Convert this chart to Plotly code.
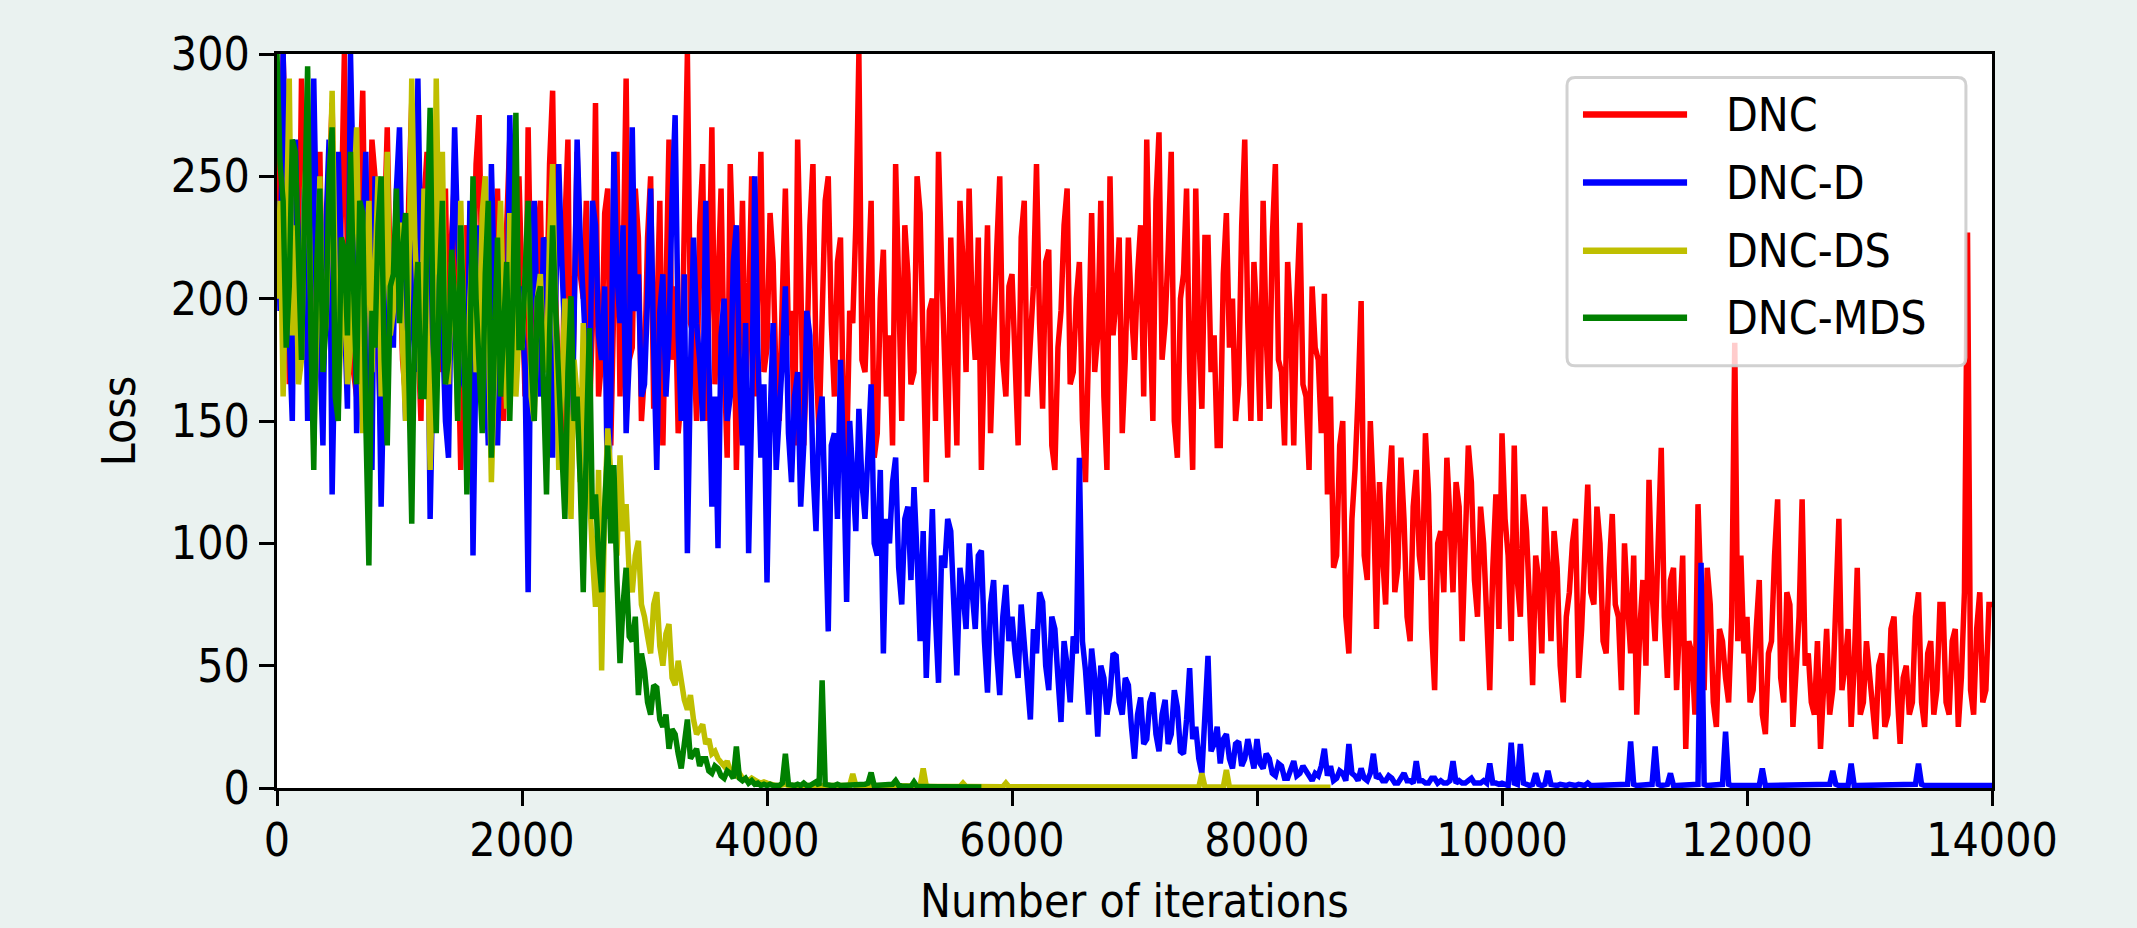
import plotly.graph_objects as go

# ---------------- data (loss sampled every 25 iterations) ----------------
ITER_STEP = 25

series_names = ["DNC", "DNC-D", "DNC-DS", "DNC-MDS"]
series_colors = ["#ff0000", "#0000ff", "#bfbf00", "#008000"]

dnc_loss = [
    270, 210, 300, 245, 165, 225, 240, 185, 290, 235, 180, 270, 150, 200, 260, 175, 210, 255, 280, 190, 175, 235, 300, 215, 230, 170, 160, 245, 285, 195, 200, 265, 250, 185, 140, 225, 270, 205, 190, 240,
    220, 175, 160, 240, 280, 205, 185, 150, 240, 260, 140, 195, 265, 170, 205, 245, 170, 225, 250, 180, 130, 210, 230, 165, 195, 255, 275, 200, 160, 235, 215, 145, 245, 190, 150, 230, 265, 210, 185, 250,
    210, 160, 270, 195, 155, 225, 240, 175, 190, 255, 285, 200, 165, 140, 230, 265, 130, 185, 260, 210, 200, 240, 150, 190, 280, 160, 175, 235, 245, 140, 195, 260, 160, 210, 290, 175, 180, 245, 225, 150,
    170, 225, 250, 155, 190, 240, 140, 200, 265, 175, 205, 145, 160, 230, 300, 190, 185, 150, 230, 255, 150, 200, 270, 165, 210, 245, 175, 135, 255, 215, 130, 180, 240, 160, 195, 250, 160, 205, 260, 170,
    180, 235, 215, 165, 150, 200, 245, 185, 195, 140, 265, 210, 140, 175, 230, 255, 175, 145, 205, 240, 250, 190, 160, 215, 225, 150, 135, 195, 190, 230, 300, 175, 170, 210, 240, 135, 145, 200, 220, 160,
    185, 140, 255, 205, 150, 230, 210, 165, 170, 250, 235, 180, 125, 195, 200, 150, 260, 215, 165, 135, 225, 190, 140, 240, 215, 170, 245, 195, 175, 225, 130, 180, 230, 145, 190, 220, 250, 175, 160, 205,
    210, 175, 140, 225, 240, 160, 180, 205, 255, 190, 155, 215, 220, 140, 130, 180, 195, 230, 245, 165, 170, 200, 215, 150, 125, 195, 235, 170, 185, 240, 160, 130, 250, 185, 200, 225, 145, 175, 225, 195,
    175, 210, 230, 160, 265, 195, 150, 240, 268, 175, 190, 220, 260, 150, 135, 200, 210, 245, 170, 130, 245, 185, 155, 225, 225, 170, 185, 140, 140, 210, 235, 180, 200, 150, 165, 230, 265, 190, 150, 215,
    190, 150, 240, 185, 155, 225, 255, 175, 170, 140, 215, 190, 140, 200, 231, 165, 160, 130, 205, 180, 175, 145, 202, 120, 160, 90, 95, 140, 150, 70, 55, 110, 130, 160, 199, 95, 85, 150, 120, 65,
    125, 95, 75, 120, 140, 80, 90, 135, 110, 70, 60, 115, 130, 95, 85, 145, 120, 65, 40, 100, 105, 80, 135, 110, 80, 125, 115, 60, 95, 140, 125, 85, 70, 115, 100, 75, 40, 90, 120, 65,
    145, 110, 95, 60, 140, 85, 70, 120, 105, 75, 42, 95, 85, 55, 115, 90, 60, 105, 90, 50, 35, 70, 80, 100, 110, 45, 65, 95, 124, 80, 75, 115, 100, 60, 55, 90, 112, 75, 70, 40,
    100, 75, 55, 95, 30, 65, 85, 50, 126, 80, 60, 100, 139, 70, 45, 85, 90, 40, 70, 95, 16, 60, 55, 30, 116, 75, 40, 90, 75, 35, 25, 65, 60, 45, 35, 70, 182, 60, 95, 55,
    70, 35, 40, 65, 85, 30, 22, 55, 60, 95, 118, 45, 35, 80, 75, 25, 45, 70, 118, 50, 55, 35, 30, 60, 16, 45, 65, 30, 40, 75, 110, 40, 50, 65, 25, 50, 90, 30, 35, 60,
    45, 30, 20, 50, 55, 25, 30, 65, 70, 40, 18, 45, 50, 30, 35, 70, 80, 35, 25, 55, 60, 30, 40, 75, 75, 35, 30, 60, 65, 25, 45, 80, 227, 40, 30, 65, 80, 35, 40, 75,
    75,
]

dnc_d_loss = [
    240, 195, 300, 230, 185, 150, 265, 210, 210, 245, 150, 190, 290, 220, 175, 140, 230, 265, 120, 180, 260, 215, 195, 155, 300, 240, 145, 185, 220, 260, 170, 130, 250, 200, 115, 170, 235, 205, 180, 245,
    270, 200, 150, 185, 225, 170, 290, 215, 165, 235, 110, 175, 245, 205, 190, 150, 135, 210, 270, 225, 205, 165, 160, 240, 95, 180, 230, 200, 180, 140, 255, 205, 140, 190, 210, 165, 275, 225, 170, 205,
    195, 170, 80, 210, 240, 185, 160, 225, 220, 165, 135, 200, 255, 215, 180, 150, 120, 190, 265, 225, 200, 170, 150, 240, 230, 185, 175, 205, 110, 160, 260, 210, 190, 230, 145, 175, 270, 195, 210, 160,
    165, 200, 245, 180, 130, 195, 210, 160, 185, 240, 275, 185, 150, 210, 96, 170, 225, 190, 175, 150, 240, 175, 115, 160, 98, 185, 200, 150, 160, 215, 230, 170, 140, 190, 96, 155, 250, 180, 135, 165,
    84, 150, 190, 130, 150, 175, 205, 145, 125, 160, 170, 115, 140, 195, 185, 130, 105, 150, 160, 120, 64, 140, 145, 110, 175, 135, 76, 150, 130, 105, 155, 125, 110, 145, 165, 100, 95, 130, 55, 110,
    100, 125, 135, 90, 75, 110, 115, 85, 123, 95, 60, 105, 45, 80, 114, 70, 43, 95, 90, 110, 105, 75, 46, 90, 80, 65, 100, 80, 65, 95, 97, 60, 39, 75, 85, 55, 38, 70, 83, 60,
    70, 55, 45, 75, 60, 40, 28, 65, 55, 80, 76, 50, 40, 70, 65, 45, 27, 60, 50, 35, 62, 55, 135, 60, 48, 30, 57, 45, 21, 50, 45, 30, 38, 55, 54, 35, 30, 45, 42, 25,
    12, 30, 37, 18, 20, 35, 39, 22, 15, 30, 36, 18, 22, 40, 33, 15, 14, 28, 49, 20, 25, 12, 6, 30, 54, 15, 18, 25, 10, 20, 22, 12, 8, 18, 19, 9, 12, 20, 15, 8,
    20, 10, 8, 14, 12, 6, 5, 10, 9, 4, 4, 8, 11, 5, 6, 9, 7, 4, 3, 6, 5, 9, 16, 5, 9, 3, 4, 7, 6, 3, 18, 6, 5, 3, 8, 4, 3, 6, 14, 4,
    5, 3, 3, 5, 4, 2, 2, 4, 6, 3, 3, 2, 11, 3, 3, 2, 2, 4, 4, 2, 3, 2, 2, 3, 11, 2, 3, 2, 2, 3, 4, 2, 2, 2, 3, 2, 10, 2, 2, 1.5,
    2, 1.5, 1, 18.5, 2, 1.5, 18, 2, 1.5, 1, 1.5, 6, 1.5, 1, 1.5, 7, 1.5, 1, 1, 1.5, 1, 1, 1.5, 1, 1, 1.5, 1, 1, 2, 1, 1, 1, 1.5, 1, 1, 1, 1, 1.5, 1, 1,
    1, 1.5, 19, 1.5, 1, 1, 1.5, 1, 1, 1.5, 17, 1.5, 1, 1, 1.5, 6, 1, 1, 1, 1, 1.5, 1, 1, 1, 1.5, 92, 1.5, 1, 1, 1, 1.5, 1, 1.5, 23, 1.5, 1, 1, 1, 1.5, 1,
    1, 1, 1.5, 1, 1, 8, 1, 1, 1, 1, 1, 1, 1, 1, 1, 1, 1, 1, 1, 1, 1, 1, 1, 1.5, 1, 1, 1, 1.5, 7, 1.5, 1, 1, 1, 1, 10, 1, 1, 1, 1, 1,
    1, 1, 1, 1, 1, 1, 1, 1, 1, 1, 1, 1, 1, 1, 1, 1.5, 10, 1.5, 1, 1, 1, 1, 1, 1, 1, 1, 1, 1, 1, 1, 1, 1, 1, 1, 1, 1, 1, 1, 1, 1,
    1,
]

dnc_ds_loss = [
    200, 240, 160, 215, 290, 185, 230, 165, 175, 245, 265, 200, 140, 190, 250, 175, 190, 230, 285, 210, 155, 190, 220, 165, 180, 240, 270, 195, 145, 210, 240, 170, 205, 250, 160, 215, 260, 185, 195, 230,
    230, 180, 150, 205, 290, 225, 185, 160, 245, 195, 130, 175, 290, 210, 260, 180, 165, 215, 200, 150, 240, 185, 140, 200, 225, 170, 180, 235, 250, 190, 125, 170, 210, 240, 190, 155, 235, 205, 160, 185,
    180, 215, 235, 160, 150, 200, 210, 175, 170, 225, 255, 190, 130, 165, 200, 140, 110, 175, 160, 125, 190, 150, 120, 95, 74, 130, 48, 115, 147, 125, 110, 95, 136, 105, 116, 88, 80, 95, 101, 75,
    70, 62, 55, 75, 80, 58, 50, 63, 67, 45, 42, 52, 44, 36, 32, 38, 28, 22, 24, 26, 18, 20, 14, 15, 12, 10, 9, 11, 7, 6, 5, 6, 4, 3.5, 3, 4, 3, 2.5, 2, 2.5,
    2, 1.5, 1.5, 1, 1, 1.2, 1.5, 1, 1, 1, 1, 1.2, 1, 1, 1.5, 1, 1, 1, 1, 1, 1, 1, 1, 1, 1, 1, 1, 1, 5.7, 1, 1, 1, 1, 1, 1, 1, 1, 1, 1, 1,
    1, 0.9, 0.8, 0.8, 0.8, 0.8, 0.8, 0.8, 0.8, 0.8, 0.8, 8, 0.8, 0.7, 0.6, 0.6, 0.6, 0.6, 0.6, 0.6, 0.6, 0.6, 0.6, 0.6, 2, 0.6, 0.6, 0.6, 0.6, 0.5, 0.5, 0.5, 0.5, 0.5, 0.5, 0.5, 0.5, 0.5, 2, 0.5,
    0.5, 0.5, 0.5, 0.5, 0.4, 0.4, 0.4, 0.4, 0.4, 0.4, 0.4, 0.4, 0.4, 0.4, 0.4, 0.4, 0.4, 0.4, 0.4, 0.4, 0.4, 0.4, 0.4, 0.4, 0.4, 0.4, 0.4, 0.4, 0.4, 0.4, 0.4, 0.4, 0.4, 0.4, 0.4, 0.4, 0.4, 0.4, 0.4, 0.4,
    0.4, 0.4, 0.4, 0.4, 0.4, 0.4, 0.4, 0.4, 0.4, 0.4, 0.4, 0.4, 0.4, 0.4, 0.4, 0.4, 0.4, 0.4, 0.4, 0.4, 0.4, 0.4, 6, 0.4, 0.4, 0.4, 0.4, 0.4, 0.4, 0.4, 7.4, 0.3, 0.3, 0.3, 0.3, 0.3, 0.3, 0.3, 0.3, 0.3,
    0.3, 0.3, 0.3, 0.3, 0.3, 0.3, 0.3, 0.3, 0.3, 0.3, 0.3, 0.3, 0.3, 0.3, 0.3, 0.3, 0.3, 0.3, 0.3, 0.3, 0.3, 0.3, 0.3, 0.3, 0.3,
]

dnc_mds_loss = [
    300, 255, 240, 180, 205, 265, 260, 210, 175, 235, 295, 190, 130, 215, 245, 170, 190, 250, 270, 160, 150, 225, 220, 185, 260, 205, 165, 240, 235, 150, 91, 195, 180, 230, 250, 175, 140, 205, 210, 245,
    190, 220, 235, 170, 108, 195, 215, 160, 160, 230, 278, 185, 145, 205, 240, 165, 175, 220, 200, 150, 230, 190, 120, 175, 250, 200, 170, 145, 210, 240, 135, 190, 225, 160, 185, 215, 150, 195, 276, 180,
    180, 215, 240, 175, 150, 200, 205, 165, 120, 185, 230, 195, 165, 140, 110, 170, 201, 150, 160, 125, 80, 140, 188, 110, 120, 95, 80, 115, 140, 100, 132, 85, 51, 75, 90, 62, 60, 70, 38, 55,
    48, 35, 30, 42, 41, 28, 25, 30, 16, 24, 22, 14, 8, 18, 28, 12, 14, 16, 9, 12, 12, 7, 6, 9, 8, 5, 4, 7, 6, 4, 17, 4, 3, 4, 2, 3, 1.5, 2, 1, 1.5,
    1, 1.5, 1, 1, 1, 2, 14, 1.5, 1, 1, 1.5, 1, 2, 1, 1, 1.5, 2.5, 1, 44, 1.5, 1, 1, 1, 1.5, 1, 1, 1, 1, 1.5, 1, 1, 1, 1.5, 2, 6.3, 1, 1, 1.5, 1, 1,
    1, 1.5, 3, 1, 0.8, 0.7, 0.6, 0.6, 2.5, 0.6, 0.6, 0.5, 0.5, 0.5, 0.5, 0.5, 0.5, 0.5, 0.5, 0.5, 0.5, 0.4, 0.4, 0.4, 0.4, 0.4, 0.4, 0.4, 0.4, 0.4, 0.4,
]

assert len(dnc_loss) == 561, len(dnc_loss)
assert len(dnc_d_loss) == 561, len(dnc_d_loss)
assert len(dnc_ds_loss) == 345, len(dnc_ds_loss)
assert len(dnc_mds_loss) == 231, len(dnc_mds_loss)

x_tick_vals = [0, 2000, 4000, 6000, 8000, 10000, 12000, 14000]
x_tick_text = ["0", "2000", "4000", "6000", "8000", "10000", "12000", "14000"]
y_tick_vals = [0, 50, 100, 150, 200, 250, 300]
y_tick_text = ["0", "50", "100", "150", "200", "250", "300"]
x_title = "Number of iterations"
y_title = "Loss"

# ---------------- figure ----------------
FONT = "DejaVu Sans Condensed, DejaVu Sans, sans-serif"
BG = "#eaf2f0"

fig = go.Figure()
for name, color, values in zip(series_names, series_colors,
                               [dnc_loss, dnc_d_loss, dnc_ds_loss, dnc_mds_loss]):
    iters = [i * ITER_STEP for i in range(len(values))]
    fig.add_trace(go.Scatter(x=iters, y=values, mode="lines", name=name,
                             line=dict(color=color, width=5.5),
                             showlegend=False))

axis_common = dict(
    showgrid=False, zeroline=False, showline=True, linecolor="black",
    linewidth=3, mirror=True, ticks="outside", ticklen=15, tickwidth=3,
    tickcolor="black", tickfont=dict(family=FONT, size=46, color="black"),
)

fig.update_layout(
    width=2137, height=928,
    paper_bgcolor=BG, plot_bgcolor="white",
    margin=dict(l=277, r=145, t=54, b=140, autoexpand=False),
    font=dict(family=FONT, size=46, color="black"),
    xaxis=dict(range=[0, 14000], tickvals=x_tick_vals, ticktext=x_tick_text,
               ticklabelstandoff=-5,
               title=dict(text=x_title, font=dict(family=FONT, size=46), standoff=21),
               **axis_common),
    yaxis=dict(range=[0, 300], tickvals=y_tick_vals, ticktext=y_tick_text,
               title=dict(text=y_title, font=dict(family=FONT, size=46), standoff=21),
               **axis_common),
    showlegend=False,
)

# ---------------- legend (drawn in paper coordinates) ----------------
lx0, lx1, ly0, ly1 = 0.7522, 0.9848, 0.5753, 0.968
rx, ry = 0.0047, 0.011
legend_path = (
    f"M {lx0+rx},{ly0} L {lx1-rx},{ly0} Q {lx1},{ly0} {lx1},{ly0+ry} "
    f"L {lx1},{ly1-ry} Q {lx1},{ly1} {lx1-rx},{ly1} "
    f"L {lx0+rx},{ly1} Q {lx0},{ly1} {lx0},{ly1-ry} "
    f"L {lx0},{ly0+ry} Q {lx0},{ly0} {lx0+rx},{ly0} Z"
)
fig.add_shape(type="path", path=legend_path, xref="paper", yref="paper",
              fillcolor="rgba(255,255,255,0.8)",
              line=dict(color="rgba(204,204,204,0.9)", width=3), layer="above")

entry_y = [0.9175, 0.8248, 0.7321, 0.6408]
for name, color, yy in zip(series_names, series_colors, entry_y):
    fig.add_shape(type="line", xref="paper", yref="paper",
                  x0=0.7615, x1=0.8222, y0=yy, y1=yy,
                  line=dict(color=color, width=6.5), layer="above")
    fig.add_annotation(x=0.8437, y=yy, xref="paper", yref="paper",
                       text=name, showarrow=False, xanchor="left", yanchor="middle",
                       font=dict(family=FONT, size=46, color="black"))

# remove the browser's default page margin so the figure fills the window exactly
page_fix = (
    "document.body.style.margin='0';"
    "document.body.style.padding='0';"
    f"document.body.style.background='{BG}';"
    "document.body.style.overflow='hidden';"
)
fig.write_html("out.html", config={"displayModeBar": False}, post_script=page_fix)
